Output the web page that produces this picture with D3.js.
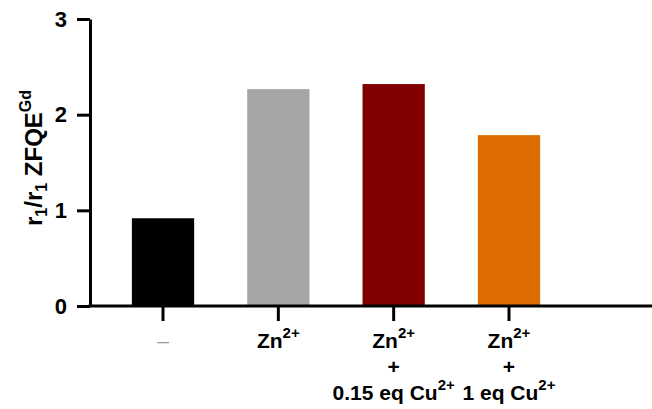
<!DOCTYPE html>
<html>
<head>
<meta charset="utf-8">
<script src="https://cdn.jsdelivr.net/npm/d3@7"></script>
<style>
  body { margin: 0; background: #fff; }
  text { font-family: "Liberation Sans", Arial, sans-serif; }
</style>
</head>
<body>
<script>
// data
const categories = ["none", "Zn", "Zn+0.15Cu", "Zn+1Cu"];
const values = [0.917, 2.267, 2.32, 1.786];
const colors = ["#000000", "#a6a6a6", "#800000", "#dd6c00"];
const yTicks = [0, 1, 2, 3];
// label lines per category: [text, superscript]
const labelLines = [
    [["\u2013", ""]],
    [["Zn", "2+"]],
    [["Zn", "2+"], ["+", ""], ["0.15 eq Cu", "2+"]],
    [["Zn", "2+"], ["+", ""], ["1 eq Cu", "2+"]]
];

const width = 652, height = 409;
const x0 = 90, y0 = 306, yTop = 19;

const svg = d3.select("body").append("svg")
    .attr("width", width)
    .attr("height", height);

const x = d3.scaleBand()
    .domain(categories)
    .range([x0, 582])
    .paddingInner(0.46)
    .paddingOuter(0.363);

const y = d3.scaleLinear()
    .domain([0, 3])
    .range([y0, yTop]);

// bars
svg.selectAll(".bar")
    .data(values)
    .enter().append("rect")
    .attr("class", "bar")
    .attr("x", (d, i) => x(categories[i]))
    .attr("width", x.bandwidth())
    .attr("y", d => y(d))
    .attr("height", d => y0 - y(d))
    .attr("fill", (d, i) => colors[i]);

// y axis
const yAxis = svg.append("g")
    .attr("transform", "translate(" + x0 + ",0)")
    .call(d3.axisLeft(y).tickValues(yTicks).tickFormat(d3.format("d"))
        .tickSize(13).tickSizeOuter(0).tickPadding(10));
yAxis.select(".domain").attr("stroke-width", 3);
yAxis.selectAll(".tick line").attr("stroke-width", 3);
yAxis.selectAll(".tick text")
    .attr("font-size", 22)
    .attr("font-weight", "bold")
    .attr("fill", "#000");

// x axis (line drawn across the full width)
const xAxis = svg.append("g")
    .attr("transform", "translate(0," + y0 + ")")
    .call(d3.axisBottom(x).tickSize(15).tickSizeOuter(0).tickFormat(""));
xAxis.select(".domain").remove();
xAxis.selectAll(".tick line").attr("stroke-width", 3);
svg.append("line")
    .attr("x1", x0 - 1.5).attr("x2", width)
    .attr("y1", y0).attr("y2", y0)
    .attr("stroke", "#000")
    .attr("stroke-width", 3);

// x labels
categories.forEach(function (c, i) {
    const cx = x(c) + x.bandwidth() / 2;
    labelLines[i].forEach(function (line, j) {
        const t = svg.append("text")
            .attr("x", cx)
            .attr("y", 348 + j * 26)
            .attr("text-anchor", "middle")
            .attr("font-size", 21)
            .attr("font-weight", i === 0 ? "normal" : "bold")
            .attr("fill", i === 0 ? "#999" : "#000");
        t.append("tspan").text(line[0]);
        if (line[1]) {
            t.append("tspan")
                .attr("font-size", 15)
                .attr("dy", -10)
                .text(line[1]);
        }
    });
});

// y title
const title = svg.append("text")
    .attr("transform", "translate(42," + 158 + ") rotate(-90)")
    .attr("text-anchor", "middle")
    .attr("font-size", 24)
    .attr("font-weight", "bold");
title.append("tspan").text("r");
title.append("tspan").attr("font-size", 16).attr("dy", 5).text("1");
title.append("tspan").attr("dy", -5).text("/r");
title.append("tspan").attr("font-size", 16).attr("dy", 5).text("1");
title.append("tspan").attr("dy", -5).text(" ZFQE");
title.append("tspan").attr("font-size", 16).attr("dy", -11).text("Gd");
</script>
</body>
</html>
